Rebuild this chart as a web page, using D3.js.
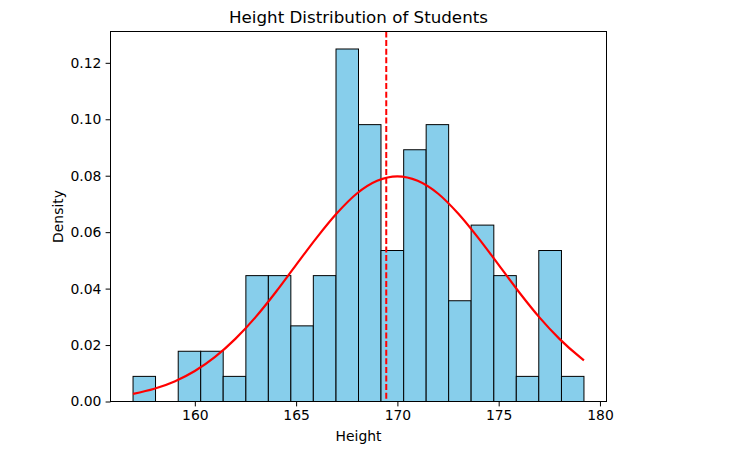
<!DOCTYPE html>
<html>
<head>
<meta charset="utf-8">
<script src="https://cdn.jsdelivr.net/npm/d3@7"></script>
<style>
  body { margin: 0; background: #fff; }
  svg { display: block; font-family: "DejaVu Sans", sans-serif; }
</style>
</head>
<body>
<svg id="chart"></svg>
<script>
// histogram bins (edges) and density per bin
const binEdges = [156.95, 158.06, 159.18, 160.29, 161.40, 162.52, 163.63, 164.74, 165.85, 166.97,
  168.08, 169.19, 170.31, 171.42, 172.53, 173.64, 174.76, 175.87, 176.98, 178.10, 179.21];
const densities = [0.0089, 0, 0.0178, 0.0178, 0.0089, 0.0446, 0.0446, 0.0268, 0.0446, 0.1249,
  0.0981, 0.0535, 0.0892, 0.0981, 0.0357, 0.0625, 0.0446, 0.0089, 0.0535, 0.0089];

// red fitted curve
const curveX = [156.95, 158, 159, 160, 161, 162, 163, 164, 165, 166, 167, 168, 169, 170,
  171, 172, 173, 174, 175, 176, 177, 178, 179, 179.21];
const curveY = [0.0027, 0.0045, 0.0071, 0.0108, 0.0158, 0.0222, 0.0299, 0.0388, 0.0484, 0.0579,
  0.0666, 0.0737, 0.0782, 0.0798, 0.0782, 0.0737, 0.0666, 0.0579, 0.0484, 0.0388, 0.0299,
  0.0222, 0.0158, 0.0146];

const meanHeight = 169.45;

const xTicks = [160, 165, 170, 175, 180];
const yTicks = [0, 0.02, 0.04, 0.06, 0.08, 0.10, 0.12];

const W = 743, H = 452;
const pLeft = 110.5, pRight = 606.5, pTop = 31.5, pBottom = 401.5;

const svg = d3.select("#chart").attr("width", W).attr("height", H);

// matplotlib style 5% margins
const x = d3.scaleLinear().domain([155.837, 180.323]).range([pLeft, pRight]);
const y = d3.scaleLinear().domain([0, 0.1311]).range([pBottom, pTop]);

const bins = densities.map((d, i) => ({ x0: binEdges[i], x1: binEdges[i + 1], d: d }));

// bars
svg.append("g")
  .selectAll("rect")
  .data(bins.filter((b) => b.d > 0))
  .enter()
  .append("rect")
  .attr("x", (b) => x(b.x0))
  .attr("width", (b) => x(b.x1) - x(b.x0))
  .attr("y", (b) => y(b.d))
  .attr("height", (b) => y(0) - y(b.d))
  .attr("fill", "#87ceeb")
  .attr("stroke", "#000")
  .attr("stroke-width", 1);

// fitted normal curve
const line = d3.line()
  .x((d) => x(d[0]))
  .y((d) => y(d[1]))
  .curve(d3.curveMonotoneX);

svg.append("path")
  .datum(curveX.map((v, i) => [v, curveY[i]]))
  .attr("d", line)
  .attr("fill", "none")
  .attr("stroke", "red")
  .attr("stroke-width", 2.2);

// mean line
svg.append("line")
  .attr("x1", x(meanHeight)).attr("x2", x(meanHeight))
  .attr("y1", pTop).attr("y2", pBottom)
  .attr("stroke", "red")
  .attr("stroke-width", 2)
  .attr("stroke-dasharray", "6,2.6");

// axes
const xAxis = d3.axisBottom(x).tickValues(xTicks).tickSize(4.9).tickPadding(4.2)
  .tickFormat(d3.format("d"));
const yAxis = d3.axisLeft(y).tickValues(yTicks).tickSize(4.9).tickPadding(4.2)
  .tickFormat(d3.format(".2f"));

const gx = svg.append("g").attr("transform", `translate(0,${pBottom})`).call(xAxis);
const gy = svg.append("g").attr("transform", `translate(${pLeft},0)`).call(yAxis);

[gx, gy].forEach((g) => {
  g.select(".domain").remove();
  g.selectAll("line").attr("stroke", "#000").attr("stroke-width", 1);
  g.selectAll("text").attr("font-size", "13.9px").attr("fill", "#000")
    .attr("font-family", "DejaVu Sans, sans-serif");
});

// frame
svg.append("rect")
  .attr("x", pLeft).attr("y", pTop)
  .attr("width", pRight - pLeft).attr("height", pBottom - pTop)
  .attr("fill", "none").attr("stroke", "#000").attr("stroke-width", 1);

// labels
svg.append("text")
  .attr("x", (pLeft + pRight) / 2).attr("y", 23)
  .attr("text-anchor", "middle")
  .attr("font-size", "16.7px")
  .text("Height Distribution of Students");

svg.append("text")
  .attr("x", (pLeft + pRight) / 2).attr("y", 441)
  .attr("text-anchor", "middle")
  .attr("font-size", "13.9px")
  .text("Height");

svg.append("text")
  .attr("transform", `translate(62.5,${(pTop + pBottom) / 2}) rotate(-90)`)
  .attr("text-anchor", "middle")
  .attr("font-size", "13.9px")
  .text("Density");
</script>
</body>
</html>
